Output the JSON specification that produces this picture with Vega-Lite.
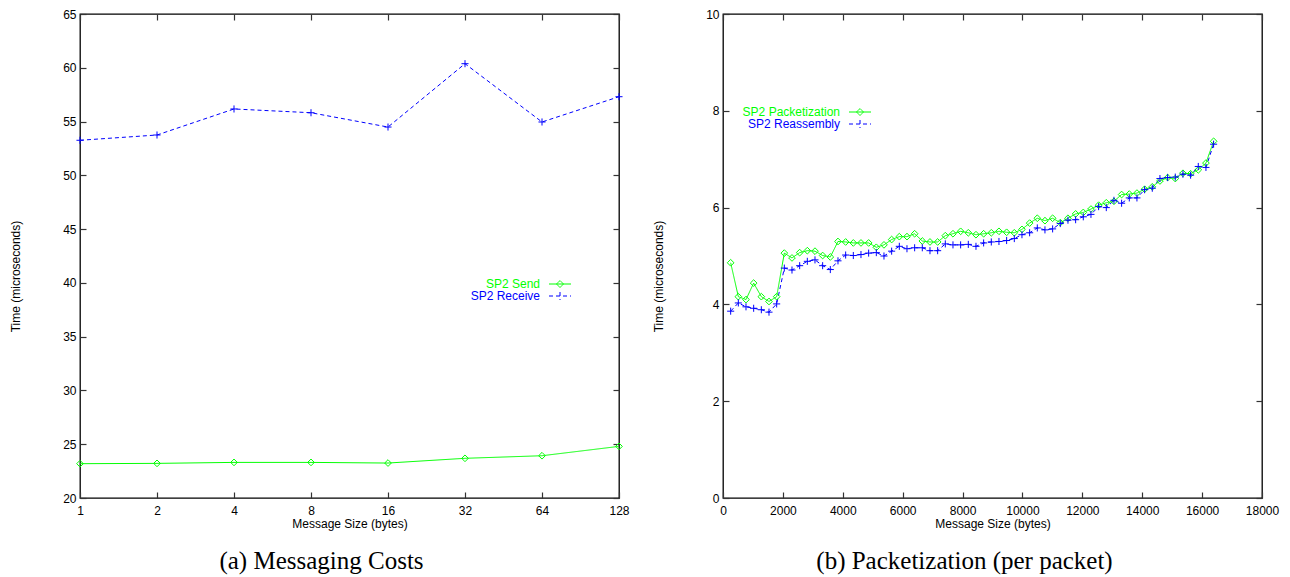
{
  "$schema": "https://vega.github.io/schema/vega-lite/v6.json",
  "background": "white",
  "padding": {"left": 8, "top": 7, "right": 5, "bottom": 2},
  "datasets": {
    "messaging": [
      {"size": 1, "time": 23.19, "series": "SP2 Send"},
      {"size": 2, "time": 23.22, "series": "SP2 Send"},
      {"size": 4, "time": 23.31, "series": "SP2 Send"},
      {"size": 8, "time": 23.31, "series": "SP2 Send"},
      {"size": 16, "time": 23.25, "series": "SP2 Send"},
      {"size": 32, "time": 23.69, "series": "SP2 Send"},
      {"size": 64, "time": 23.93, "series": "SP2 Send"},
      {"size": 128, "time": 24.8, "series": "SP2 Send"},
      {"size": 1, "time": 53.26, "series": "SP2 Receive"},
      {"size": 2, "time": 53.75, "series": "SP2 Receive"},
      {"size": 4, "time": 56.17, "series": "SP2 Receive"},
      {"size": 8, "time": 55.82, "series": "SP2 Receive"},
      {"size": 16, "time": 54.49, "series": "SP2 Receive"},
      {"size": 32, "time": 60.38, "series": "SP2 Receive"},
      {"size": 64, "time": 54.96, "series": "SP2 Receive"},
      {"size": 128, "time": 57.31, "series": "SP2 Receive"}
    ],
    "packet": [
      {"bytes": 256, "time": 4.86, "series": "SP2 Packetization"},
      {"bytes": 512, "time": 4.16, "series": "SP2 Packetization"},
      {"bytes": 768, "time": 4.10, "series": "SP2 Packetization"},
      {"bytes": 1024, "time": 4.44, "series": "SP2 Packetization"},
      {"bytes": 1280, "time": 4.16, "series": "SP2 Packetization"},
      {"bytes": 1536, "time": 4.06, "series": "SP2 Packetization"},
      {"bytes": 1792, "time": 4.16, "series": "SP2 Packetization"},
      {"bytes": 2048, "time": 5.06, "series": "SP2 Packetization"},
      {"bytes": 2304, "time": 4.96, "series": "SP2 Packetization"},
      {"bytes": 2560, "time": 5.07, "series": "SP2 Packetization"},
      {"bytes": 2816, "time": 5.11, "series": "SP2 Packetization"},
      {"bytes": 3072, "time": 5.10, "series": "SP2 Packetization"},
      {"bytes": 3328, "time": 5.01, "series": "SP2 Packetization"},
      {"bytes": 3584, "time": 4.98, "series": "SP2 Packetization"},
      {"bytes": 3840, "time": 5.30, "series": "SP2 Packetization"},
      {"bytes": 4096, "time": 5.29, "series": "SP2 Packetization"},
      {"bytes": 4352, "time": 5.27, "series": "SP2 Packetization"},
      {"bytes": 4608, "time": 5.27, "series": "SP2 Packetization"},
      {"bytes": 4864, "time": 5.27, "series": "SP2 Packetization"},
      {"bytes": 5120, "time": 5.18, "series": "SP2 Packetization"},
      {"bytes": 5376, "time": 5.23, "series": "SP2 Packetization"},
      {"bytes": 5632, "time": 5.34, "series": "SP2 Packetization"},
      {"bytes": 5888, "time": 5.40, "series": "SP2 Packetization"},
      {"bytes": 6144, "time": 5.40, "series": "SP2 Packetization"},
      {"bytes": 6400, "time": 5.46, "series": "SP2 Packetization"},
      {"bytes": 6656, "time": 5.31, "series": "SP2 Packetization"},
      {"bytes": 6912, "time": 5.29, "series": "SP2 Packetization"},
      {"bytes": 7168, "time": 5.29, "series": "SP2 Packetization"},
      {"bytes": 7424, "time": 5.42, "series": "SP2 Packetization"},
      {"bytes": 7680, "time": 5.46, "series": "SP2 Packetization"},
      {"bytes": 7936, "time": 5.51, "series": "SP2 Packetization"},
      {"bytes": 8192, "time": 5.48, "series": "SP2 Packetization"},
      {"bytes": 8448, "time": 5.44, "series": "SP2 Packetization"},
      {"bytes": 8704, "time": 5.46, "series": "SP2 Packetization"},
      {"bytes": 8960, "time": 5.48, "series": "SP2 Packetization"},
      {"bytes": 9216, "time": 5.51, "series": "SP2 Packetization"},
      {"bytes": 9472, "time": 5.49, "series": "SP2 Packetization"},
      {"bytes": 9728, "time": 5.48, "series": "SP2 Packetization"},
      {"bytes": 9984, "time": 5.55, "series": "SP2 Packetization"},
      {"bytes": 10240, "time": 5.68, "series": "SP2 Packetization"},
      {"bytes": 10496, "time": 5.78, "series": "SP2 Packetization"},
      {"bytes": 10752, "time": 5.73, "series": "SP2 Packetization"},
      {"bytes": 11008, "time": 5.78, "series": "SP2 Packetization"},
      {"bytes": 11264, "time": 5.69, "series": "SP2 Packetization"},
      {"bytes": 11520, "time": 5.78, "series": "SP2 Packetization"},
      {"bytes": 11776, "time": 5.87, "series": "SP2 Packetization"},
      {"bytes": 12032, "time": 5.90, "series": "SP2 Packetization"},
      {"bytes": 12288, "time": 5.97, "series": "SP2 Packetization"},
      {"bytes": 12544, "time": 6.05, "series": "SP2 Packetization"},
      {"bytes": 12800, "time": 6.10, "series": "SP2 Packetization"},
      {"bytes": 13056, "time": 6.13, "series": "SP2 Packetization"},
      {"bytes": 13312, "time": 6.27, "series": "SP2 Packetization"},
      {"bytes": 13568, "time": 6.28, "series": "SP2 Packetization"},
      {"bytes": 13824, "time": 6.30, "series": "SP2 Packetization"},
      {"bytes": 14080, "time": 6.38, "series": "SP2 Packetization"},
      {"bytes": 14336, "time": 6.43, "series": "SP2 Packetization"},
      {"bytes": 14592, "time": 6.55, "series": "SP2 Packetization"},
      {"bytes": 14848, "time": 6.62, "series": "SP2 Packetization"},
      {"bytes": 15104, "time": 6.60, "series": "SP2 Packetization"},
      {"bytes": 15360, "time": 6.71, "series": "SP2 Packetization"},
      {"bytes": 15616, "time": 6.70, "series": "SP2 Packetization"},
      {"bytes": 15872, "time": 6.78, "series": "SP2 Packetization"},
      {"bytes": 16128, "time": 6.92, "series": "SP2 Packetization"},
      {"bytes": 16384, "time": 7.37, "series": "SP2 Packetization"},
      {"bytes": 256, "time": 3.86, "series": "SP2 Reassembly"},
      {"bytes": 512, "time": 4.03, "series": "SP2 Reassembly"},
      {"bytes": 768, "time": 3.95, "series": "SP2 Reassembly"},
      {"bytes": 1024, "time": 3.92, "series": "SP2 Reassembly"},
      {"bytes": 1280, "time": 3.89, "series": "SP2 Reassembly"},
      {"bytes": 1536, "time": 3.84, "series": "SP2 Reassembly"},
      {"bytes": 1792, "time": 4.01, "series": "SP2 Reassembly"},
      {"bytes": 2048, "time": 4.75, "series": "SP2 Reassembly"},
      {"bytes": 2304, "time": 4.71, "series": "SP2 Reassembly"},
      {"bytes": 2560, "time": 4.80, "series": "SP2 Reassembly"},
      {"bytes": 2816, "time": 4.89, "series": "SP2 Reassembly"},
      {"bytes": 3072, "time": 4.92, "series": "SP2 Reassembly"},
      {"bytes": 3328, "time": 4.80, "series": "SP2 Reassembly"},
      {"bytes": 3584, "time": 4.72, "series": "SP2 Reassembly"},
      {"bytes": 3840, "time": 4.90, "series": "SP2 Reassembly"},
      {"bytes": 4096, "time": 5.02, "series": "SP2 Reassembly"},
      {"bytes": 4352, "time": 5.01, "series": "SP2 Reassembly"},
      {"bytes": 4608, "time": 5.03, "series": "SP2 Reassembly"},
      {"bytes": 4864, "time": 5.06, "series": "SP2 Reassembly"},
      {"bytes": 5120, "time": 5.07, "series": "SP2 Reassembly"},
      {"bytes": 5376, "time": 5.00, "series": "SP2 Reassembly"},
      {"bytes": 5632, "time": 5.10, "series": "SP2 Reassembly"},
      {"bytes": 5888, "time": 5.20, "series": "SP2 Reassembly"},
      {"bytes": 6144, "time": 5.15, "series": "SP2 Reassembly"},
      {"bytes": 6400, "time": 5.17, "series": "SP2 Reassembly"},
      {"bytes": 6656, "time": 5.17, "series": "SP2 Reassembly"},
      {"bytes": 6912, "time": 5.11, "series": "SP2 Reassembly"},
      {"bytes": 7168, "time": 5.11, "series": "SP2 Reassembly"},
      {"bytes": 7424, "time": 5.25, "series": "SP2 Reassembly"},
      {"bytes": 7680, "time": 5.23, "series": "SP2 Reassembly"},
      {"bytes": 7936, "time": 5.23, "series": "SP2 Reassembly"},
      {"bytes": 8192, "time": 5.24, "series": "SP2 Reassembly"},
      {"bytes": 8448, "time": 5.20, "series": "SP2 Reassembly"},
      {"bytes": 8704, "time": 5.27, "series": "SP2 Reassembly"},
      {"bytes": 8960, "time": 5.29, "series": "SP2 Reassembly"},
      {"bytes": 9216, "time": 5.30, "series": "SP2 Reassembly"},
      {"bytes": 9472, "time": 5.32, "series": "SP2 Reassembly"},
      {"bytes": 9728, "time": 5.36, "series": "SP2 Reassembly"},
      {"bytes": 9984, "time": 5.44, "series": "SP2 Reassembly"},
      {"bytes": 10240, "time": 5.48, "series": "SP2 Reassembly"},
      {"bytes": 10496, "time": 5.58, "series": "SP2 Reassembly"},
      {"bytes": 10752, "time": 5.54, "series": "SP2 Reassembly"},
      {"bytes": 11008, "time": 5.56, "series": "SP2 Reassembly"},
      {"bytes": 11264, "time": 5.67, "series": "SP2 Reassembly"},
      {"bytes": 11520, "time": 5.74, "series": "SP2 Reassembly"},
      {"bytes": 11776, "time": 5.75, "series": "SP2 Reassembly"},
      {"bytes": 12032, "time": 5.81, "series": "SP2 Reassembly"},
      {"bytes": 12288, "time": 5.86, "series": "SP2 Reassembly"},
      {"bytes": 12544, "time": 6.02, "series": "SP2 Reassembly"},
      {"bytes": 12800, "time": 6.00, "series": "SP2 Reassembly"},
      {"bytes": 13056, "time": 6.15, "series": "SP2 Reassembly"},
      {"bytes": 13312, "time": 6.09, "series": "SP2 Reassembly"},
      {"bytes": 13568, "time": 6.20, "series": "SP2 Reassembly"},
      {"bytes": 13824, "time": 6.20, "series": "SP2 Reassembly"},
      {"bytes": 14080, "time": 6.37, "series": "SP2 Reassembly"},
      {"bytes": 14336, "time": 6.40, "series": "SP2 Reassembly"},
      {"bytes": 14592, "time": 6.60, "series": "SP2 Reassembly"},
      {"bytes": 14848, "time": 6.62, "series": "SP2 Reassembly"},
      {"bytes": 15104, "time": 6.63, "series": "SP2 Reassembly"},
      {"bytes": 15360, "time": 6.69, "series": "SP2 Reassembly"},
      {"bytes": 15616, "time": 6.67, "series": "SP2 Reassembly"},
      {"bytes": 15872, "time": 6.85, "series": "SP2 Reassembly"},
      {"bytes": 16128, "time": 6.83, "series": "SP2 Reassembly"},
      {"bytes": 16384, "time": 7.31, "series": "SP2 Reassembly"}
    ]
  },
  "spacing": 104,
  "bounds": "flush",
  "hconcat": [
    {
      "width": 539,
      "height": 484,
      "data": {"name": "messaging"},
      "title": {"text": "(a) Messaging Costs", "orient": "bottom", "anchor": "middle", "offset": 20, "dx": -28},
      "layer": [
        {
          "mark": {"type": "line", "strokeWidth": 1},
          "encoding": {
            "x": {"field": "size", "type": "quantitative",
                  "scale": {"type": "log", "base": 2, "domain": [1, 128], "nice": false},
                  "axis": {"orient": "bottom", "values": [1, 2, 4, 8, 16, 32, 64, 128], "format": "d", "ticks": false, "offset": 0, "labelPadding": 7, "title": "Message Size (bytes)"}},
            "y": {"field": "time", "type": "quantitative",
                  "scale": {"domain": [20, 65], "nice": false, "zero": false},
                  "axis": {"orient": "left", "values": [20, 25, 30, 35, 40, 45, 50, 55, 60, 65], "ticks": false, "offset": 0, "labelPadding": 4, "title": "Time (microseconds)", "titleX": -58, "titleY": 262}},
            "color": {"field": "series", "type": "nominal",
                      "scale": {"domain": ["SP2 Send", "SP2 Receive"], "range": ["#00ff00", "#0000ff"]},
                      "legend": {
                        "orient": "none", "legendX": 460, "legendY": 264, "title": null, "padding": 0,
                        "labelFont": "Liberation Sans", "labelFontSize": 12, "labelAlign": "right",
                        "rowPadding": -1, "symbolSize": 100,
                        "encode": {
                          "labels": {"update": {
                            "x": {"value": 0},
                            "align": {"value": "right"},
                            "fill": {"signal": "datum.value === 'SP2 Send' ? '#00ff00' : '#0000ff'"}
                          }},
                          "symbols": {"update": {
                            "x": {"value": 20},
                            "size": {"value": 100},
                            "shape": {"signal": "datum.value === 'SP2 Send' ? 'M-2.2,0L2.2,0M0,-0.7L0.7,0L0,0.7L-0.7,0Z' : 'M-2.2,0L2.2,0M0,-0.8L0,0.8'"},
                            "stroke": {"signal": "datum.value === 'SP2 Send' ? '#00ff00' : '#0000ff'"},
                            "strokeDash": {"signal": "datum.value === 'SP2 Send' ? [1, 0] : [4, 3]"},
                            "fill": {"value": "transparent"},
                            "strokeWidth": {"value": 1},
                            "opacity": {"value": 1}
                          }}
                        }
                      }},
            "strokeDash": {"field": "series", "type": "nominal",
                           "scale": {"domain": ["SP2 Send", "SP2 Receive"], "range": [[1, 0], [4, 3]]},
                           "legend": null}
          }
        },
        {
          "transform": [{"filter": {"field": "series", "equal": "SP2 Send"}}],
          "mark": {"type": "point", "shape": "diamond", "filled": false, "stroke": "#00ff00", "strokeWidth": 1, "opacity": 1, "size": 45},
          "encoding": {
            "x": {"field": "size", "type": "quantitative",
                  "scale": {"type": "log", "base": 2, "domain": [1, 128], "nice": false},
                  "axis": {"orient": "top", "values": [1, 2, 4, 8, 16, 32, 64, 128], "labels": false, "title": null}},
            "y": {"field": "time", "type": "quantitative",
                  "scale": {"domain": [20, 65], "nice": false, "zero": false},
                  "axis": {"orient": "right", "values": [20, 25, 30, 35, 40, 45, 50, 55, 60, 65], "labels": false, "title": null}}
          }
        },
        {
          "transform": [{"filter": {"field": "series", "equal": "SP2 Receive"}}],
          "mark": {"type": "point", "shape": "M-1,0H1M0,-1V1", "filled": false, "stroke": "#0000ff", "strokeWidth": 1, "opacity": 1, "size": 50},
          "encoding": {
            "x": {"field": "size", "type": "quantitative",
                  "scale": {"type": "log", "base": 2, "domain": [1, 128], "nice": false},
                  "axis": {"orient": "bottom", "values": [1, 2, 4, 8, 16, 32, 64, 128], "labels": false, "title": null}},
            "y": {"field": "time", "type": "quantitative",
                  "scale": {"domain": [20, 65], "nice": false, "zero": false},
                  "axis": {"orient": "left", "values": [20, 25, 30, 35, 40, 45, 50, 55, 60, 65], "labels": false, "title": null}}
          }
        }
      ],
      "resolve": {"axis": {"x": "independent", "y": "independent"}}
    },
    {
      "width": 539,
      "height": 484,
      "data": {"name": "packet"},
      "title": {"text": "(b) Packetization (per packet)", "orient": "bottom", "anchor": "middle", "offset": 20, "dx": -28},
      "layer": [
        {
          "mark": {"type": "line", "strokeWidth": 1},
          "encoding": {
            "x": {"field": "bytes", "type": "quantitative",
                  "scale": {"domain": [0, 18000], "nice": false},
                  "axis": {"orient": "bottom", "values": [0, 2000, 4000, 6000, 8000, 10000, 12000, 14000, 16000, 18000], "format": "d", "ticks": false, "offset": 0, "labelPadding": 7, "title": "Message Size (bytes)"}},
            "y": {"field": "time", "type": "quantitative",
                  "scale": {"domain": [0, 10], "nice": false},
                  "axis": {"orient": "left", "values": [0, 2, 4, 6, 8, 10], "ticks": false, "offset": 0, "labelPadding": 4, "title": "Time (microseconds)", "titleX": -58, "titleY": 262}},
            "color": {"field": "series", "type": "nominal",
                      "scale": {"domain": ["SP2 Packetization", "SP2 Reassembly"], "range": ["#00ff00", "#0000ff"]},
                      "legend": {
                        "orient": "none", "legendX": 117, "legendY": 92, "title": null, "padding": 0,
                        "labelFont": "Liberation Sans", "labelFontSize": 12, "labelAlign": "right",
                        "rowPadding": -1, "symbolSize": 100,
                        "encode": {
                          "labels": {"update": {
                            "x": {"value": 0},
                            "align": {"value": "right"},
                            "fill": {"signal": "datum.value === 'SP2 Packetization' ? '#00ff00' : '#0000ff'"}
                          }},
                          "symbols": {"update": {
                            "x": {"value": 20},
                            "size": {"value": 100},
                            "shape": {"signal": "datum.value === 'SP2 Packetization' ? 'M-2.2,0L2.2,0M0,-0.7L0.7,0L0,0.7L-0.7,0Z' : 'M-2.2,0L2.2,0M0,-0.8L0,0.8'"},
                            "stroke": {"signal": "datum.value === 'SP2 Packetization' ? '#00ff00' : '#0000ff'"},
                            "strokeDash": {"signal": "datum.value === 'SP2 Packetization' ? [1, 0] : [4, 3]"},
                            "fill": {"value": "transparent"},
                            "strokeWidth": {"value": 1},
                            "opacity": {"value": 1}
                          }}
                        }
                      }},
            "strokeDash": {"field": "series", "type": "nominal",
                           "scale": {"domain": ["SP2 Packetization", "SP2 Reassembly"], "range": [[1, 0], [4, 3]]},
                           "legend": null}
          }
        },
        {
          "transform": [{"filter": {"field": "series", "equal": "SP2 Packetization"}}],
          "mark": {"type": "point", "shape": "diamond", "filled": false, "stroke": "#00ff00", "strokeWidth": 1, "opacity": 1, "size": 45},
          "encoding": {
            "x": {"field": "bytes", "type": "quantitative",
                  "scale": {"domain": [0, 18000], "nice": false},
                  "axis": {"orient": "top", "values": [0, 2000, 4000, 6000, 8000, 10000, 12000, 14000, 16000, 18000], "labels": false, "title": null}},
            "y": {"field": "time", "type": "quantitative",
                  "scale": {"domain": [0, 10], "nice": false},
                  "axis": {"orient": "right", "values": [0, 2, 4, 6, 8, 10], "labels": false, "title": null}}
          }
        },
        {
          "transform": [{"filter": {"field": "series", "equal": "SP2 Reassembly"}}],
          "mark": {"type": "point", "shape": "M-1,0H1M0,-1V1", "filled": false, "stroke": "#0000ff", "strokeWidth": 1, "opacity": 1, "size": 50},
          "encoding": {
            "x": {"field": "bytes", "type": "quantitative",
                  "scale": {"domain": [0, 18000], "nice": false},
                  "axis": {"orient": "bottom", "values": [0, 2000, 4000, 6000, 8000, 10000, 12000, 14000, 16000, 18000], "labels": false, "title": null}},
            "y": {"field": "time", "type": "quantitative",
                  "scale": {"domain": [0, 10], "nice": false},
                  "axis": {"orient": "left", "values": [0, 2, 4, 6, 8, 10], "labels": false, "title": null}}
          }
        }
      ],
      "resolve": {"axis": {"x": "independent", "y": "independent"}}
    }
  ],
  "resolve": {"scale": {"color": "independent", "strokeDash": "independent"}},
  "config": {
    "view": {"stroke": "#000000", "strokeWidth": 1.3},
    "font": "Liberation Sans",
    "axis": {
      "domain": false,
      "grid": false,
      "zindex": 1,
      "offset": -6,
      "tickSize": 6,
      "tickColor": "#333333",
      "tickWidth": 1.2,
      "tickOpacity": 1,
      "labelPadding": 4,
      "labelFont": "Liberation Sans",
      "labelFontSize": 12,
      "labelColor": "#000000",
      "labelFlush": false,
      "labelOverlap": false,
      "titleFont": "Liberation Sans",
      "titleFontSize": 12,
      "titleFontWeight": "normal",
      "titleColor": "#000000",
      "titlePadding": 2
    },
    "title": {"font": "Liberation Serif", "fontSize": 25, "fontWeight": "normal", "color": "#000000"}
  }
}
